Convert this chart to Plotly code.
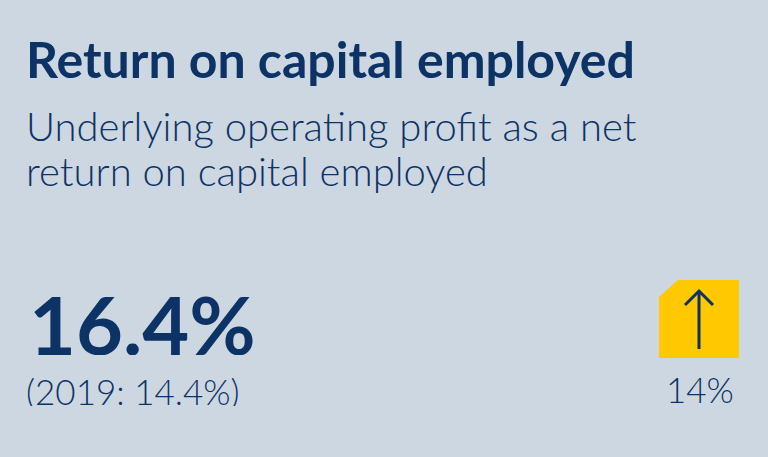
import plotly.graph_objects as go

title = "Return on capital employed"
subtitle_lines = ["Underlying operating profit as a net", "return on capital employed"]
current_year_value = 16.4
prior_year = 2019
prior_year_value = 14.4
change_pct = 14

BG = "#CDD7E1"
NAVY = "#0D3366"
YELLOW = "#FFC800"
FONT = "Lato"

fig = go.Figure()
fig.update_layout(
    width=768, height=457,
    margin=dict(l=0, r=0, t=0, b=0),
    paper_bgcolor=BG, plot_bgcolor=BG,
    xaxis=dict(range=[0, 768], visible=False, fixedrange=True),
    yaxis=dict(range=[457, 0], visible=False, fixedrange=True),
    showlegend=False,
)

def ann(text, x, y, size, weight=400, xanchor="left", yanchor="middle", height=None):
    fig.add_annotation(
        x=x, y=y, xref="x", yref="y", text=text, showarrow=False,
        xanchor=xanchor, yanchor=yanchor, height=height,
        font=dict(family=FONT, size=size, color=NAVY, weight=weight),
    )

ann(title, 24, 59, 50, weight=700)
ann(subtitle_lines[0], 24, 126, 40, weight=300)
ann(subtitle_lines[1], 24, 171, 40, weight=300)
ann(f"{current_year_value:.1f}%", 27, 323, 81, weight=700, height=64)
ann(f"({prior_year}: {prior_year_value:.1f}%)", 24, 391, 35, weight=300, height=30)
ann(f"{change_pct}%", 700, 389, 35, weight=300, xanchor="center", height=30)

# icon: yellow tag with cut corner
fig.add_shape(type="path", xref="x", yref="y",
              path="M 678 280 L 739 280 L 739 358 L 659 358 L 659 297 Z",
              fillcolor=YELLOW, line=dict(width=0), layer="below")
fig.add_shape(type="line", xref="x", yref="y", x0=699, y0=291, x1=699, y1=349,
              line=dict(color=NAVY, width=3))
fig.add_shape(type="path", xref="x", yref="y",
              path="M 685 305 L 699 291 L 713 305",
              line=dict(color=NAVY, width=3))

fig.write_html("out.html", config={"displayModeBar": False},
               post_script="document.body.style.margin='0';document.body.style.overflow='hidden';")
